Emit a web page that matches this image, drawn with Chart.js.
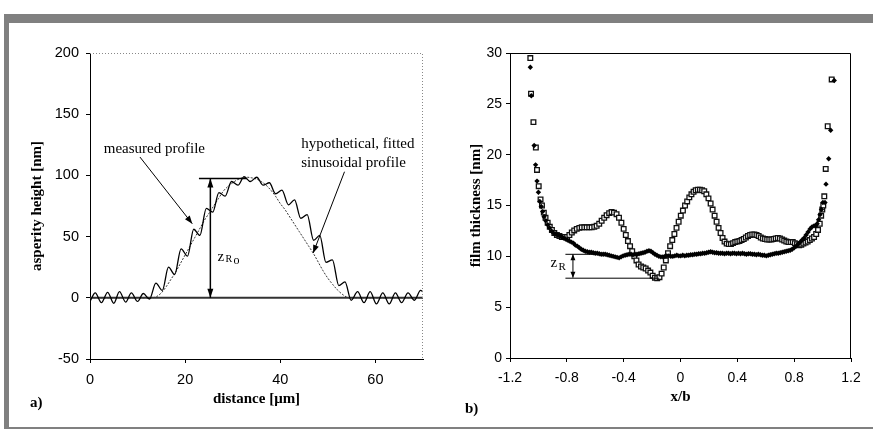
<!DOCTYPE html>
<html>
<head>
<meta charset="utf-8">
<script src="https://cdn.jsdelivr.net/npm/chart.js@4"></script>
<style>
  body { margin: 0; background: #fff; }
  #wrap { position: relative; width: 873px; height: 429px; overflow: hidden; }
  .bar { position: absolute; background: #808080; }
  canvas { position: absolute; top: 0; }
</style>
</head>
<body>
<div id="wrap">
  <canvas id="chartA" width="440" height="429" style="left:0"></canvas>
  <canvas id="chartB" width="433" height="429" style="left:440px"></canvas>
  <div class="bar" style="left:4px;top:14px;width:869px;height:9px"></div>
  <div class="bar" style="left:4px;top:14px;width:5px;height:415px"></div>
  <div class="bar" style="left:4px;top:427px;width:869px;height:2px"></div>
</div>
<script>
// a) asperity profile: [distance µm, height nm]
var measuredProfile = [
  [0, -3], [1.1, 4], [2.4, -4], [3.7, 4.5], [5.0, -4.5], [6.2, 5], [7.5, -3.5], [8.7, 4],
  [10.0, -3], [11.2, 3.5], [12.5, -1], [13.85, 12], [15.2, 6], [16.5, 25], [17.8, 19],
  [19.15, 40], [20.5, 34], [21.8, 56], [23.1, 51], [24.45, 73], [25.8, 70], [27.1, 86],
  [28.4, 83], [29.75, 95], [31.1, 92], [32.4, 99], [33.7, 95], [35.05, 98.5], [36.4, 92],
  [37.7, 94], [39.0, 85], [40.35, 88], [41.7, 76], [43.0, 80], [44.3, 65], [45.65, 68],
  [47.0, 47], [48.3, 51], [49.6, 29], [50.95, 31], [52.3, 10], [53.6, 13], [54.9, -2],
  [56.25, 5], [57.6, -4], [58.9, 5], [60.2, -5], [61.55, 4], [62.9, -5], [64.2, 4],
  [65.5, -4], [66.85, 4], [68.2, -2], [69.5, 6], [70, 5]
];
var fittedProfile = [
  [0, 0], [13, 0], [14, 1], [15, 4], [16, 9], [17, 15], [18, 21], [19, 28], [20, 35],
  [21, 42], [22, 49], [23, 56], [24, 63], [25, 69], [26, 75], [27, 81], [28, 87], [29, 91],
  [30, 94], [31, 96.5], [32, 98], [33, 98.5], [34, 98], [35, 97], [36, 95], [37, 92],
  [38, 88], [39, 83], [40, 77], [41, 72], [42, 66], [43, 60], [44, 54], [45, 48], [46, 42],
  [47, 36], [48, 29], [49, 22], [50, 16], [51, 11], [52, 6.5], [53, 3], [54, 0.5], [54.5, 0], [70, 0]
];
var baseLine = [[0, 0], [70, 0]];
var distTicks = [0, 20, 40, 60];
var heightTicks = [-50, 0, 50, 100, 150, 200];

// b) film thickness across the contact: [x/b, h nm]
var filmSquares = [
  [-1.057, 29.5], [-1.052, 26.0], [-1.035, 23.2], [-1.018, 20.7], [-1.010, 18.5], [-0.998, 16.9],
  [-0.985, 15.6], [-0.975, 15.0], [-0.962, 14.3], [-0.950, 13.8], [-0.935, 13.3], [-0.920, 12.9],
  [-0.905, 12.6], [-0.888, 12.3], [-0.870, 12.1], [-0.852, 12.0], [-0.835, 11.9], [-0.815, 11.9],
  [-0.798, 11.9], [-0.782, 12.1], [-0.765, 12.35], [-0.748, 12.55], [-0.730, 12.7], [-0.712, 12.8],
  [-0.695, 12.85], [-0.677, 12.85], [-0.660, 12.85], [-0.642, 12.85], [-0.625, 12.85], [-0.607, 12.9],
  [-0.590, 13.0], [-0.572, 13.2], [-0.555, 13.5], [-0.537, 13.8], [-0.520, 14.05], [-0.502, 14.25],
  [-0.485, 14.35], [-0.468, 14.3], [-0.450, 14.15], [-0.433, 13.8], [-0.416, 13.3], [-0.400, 12.7],
  [-0.385, 12.1], [-0.370, 11.5], [-0.355, 11.0], [-0.340, 10.5], [-0.325, 10.0], [-0.310, 9.6],
  [-0.295, 9.2], [-0.278, 9.0], [-0.262, 8.9], [-0.245, 8.8], [-0.228, 8.6], [-0.212, 8.4],
  [-0.196, 8.1], [-0.180, 7.9], [-0.164, 7.85], [-0.148, 7.95], [-0.133, 8.3], [-0.118, 8.9],
  [-0.103, 9.6], [-0.088, 10.3], [-0.073, 11.0], [-0.058, 11.6], [-0.043, 12.2], [-0.028, 12.8],
  [-0.013, 13.4], [0.002, 14.0], [0.017, 14.5], [0.032, 15.0], [0.047, 15.4], [0.062, 15.8],
  [0.077, 16.1], [0.092, 16.35], [0.107, 16.5], [0.122, 16.55], [0.137, 16.55], [0.152, 16.5],
  [0.167, 16.4], [0.182, 16.1], [0.197, 15.7], [0.212, 15.2], [0.226, 14.6], [0.240, 14.0],
  [0.254, 13.4], [0.268, 12.8], [0.282, 12.3], [0.296, 11.8], [0.310, 11.45], [0.325, 11.25],
  [0.340, 11.2], [0.355, 11.2], [0.370, 11.3], [0.385, 11.4], [0.400, 11.45], [0.415, 11.5],
  [0.430, 11.6], [0.445, 11.7], [0.460, 11.85], [0.475, 12.0], [0.490, 12.1], [0.505, 12.15],
  [0.520, 12.15], [0.535, 12.1], [0.550, 12.0], [0.565, 11.85], [0.580, 11.75], [0.595, 11.7],
  [0.610, 11.65], [0.625, 11.65], [0.640, 11.65], [0.655, 11.7], [0.670, 11.75], [0.685, 11.8],
  [0.700, 11.75], [0.715, 11.65], [0.730, 11.55], [0.745, 11.45], [0.760, 11.4], [0.775, 11.4],
  [0.790, 11.4], [0.805, 11.3], [0.820, 11.2], [0.835, 11.1], [0.850, 11.15], [0.865, 11.25],
  [0.880, 11.35], [0.895, 11.45], [0.910, 11.6], [0.925, 11.75], [0.940, 11.9], [0.955, 12.2],
  [0.968, 12.6], [0.980, 13.2], [0.990, 14.0], [0.998, 14.6], [1.005, 15.0], [1.012, 15.9],
  [1.022, 18.6], [1.036, 22.8], [1.064, 27.4]
];
var filmDiamonds = [
  [-1.057, 28.6], [-1.050, 25.8], [-1.030, 20.9], [-1.020, 19.0], [-1.010, 17.4], [-1.000, 16.3],
  [-0.990, 15.4], [-0.980, 14.9], [-0.970, 14.4], [-0.960, 13.9], [-0.948, 13.5], [-0.935, 13.1],
  [-0.922, 12.8], [-0.908, 12.5], [-0.894, 12.3], [-0.880, 12.2], [-0.866, 12.1], [-0.852, 12.0],
  [-0.838, 11.9], [-0.824, 11.8], [-0.810, 11.7], [-0.796, 11.6], [-0.782, 11.5], [-0.768, 11.4],
  [-0.754, 11.3], [-0.740, 11.1], [-0.726, 11.0], [-0.712, 10.85], [-0.698, 10.7], [-0.684, 10.6],
  [-0.670, 10.5], [-0.656, 10.45], [-0.642, 10.4], [-0.628, 10.4], [-0.614, 10.35], [-0.600, 10.3],
  [-0.586, 10.3], [-0.572, 10.25], [-0.558, 10.2], [-0.544, 10.2], [-0.530, 10.2], [-0.516, 10.15],
  [-0.502, 10.1], [-0.488, 10.05], [-0.474, 10.0], [-0.460, 9.95], [-0.446, 9.9], [-0.432, 9.85],
  [-0.418, 9.95], [-0.404, 10.05], [-0.390, 10.1], [-0.376, 10.15], [-0.362, 10.2], [-0.348, 10.2],
  [-0.334, 10.15], [-0.320, 10.2], [-0.306, 10.2], [-0.292, 10.25], [-0.278, 10.3], [-0.264, 10.35],
  [-0.250, 10.4], [-0.236, 10.5], [-0.222, 10.55], [-0.208, 10.5], [-0.194, 10.35], [-0.180, 10.2],
  [-0.166, 10.1], [-0.152, 10.0], [-0.138, 9.95], [-0.124, 9.95], [-0.110, 10.0], [-0.096, 10.05],
  [-0.082, 10.05], [-0.068, 10.0], [-0.054, 10.0], [-0.040, 10.05], [-0.026, 10.1], [-0.012, 10.05],
  [0.002, 10.05], [0.016, 10.1], [0.030, 10.05], [0.044, 10.1], [0.058, 10.1], [0.072, 10.15],
  [0.086, 10.15], [0.100, 10.2], [0.114, 10.2], [0.128, 10.25], [0.142, 10.25], [0.156, 10.3],
  [0.170, 10.3], [0.184, 10.35], [0.198, 10.4], [0.212, 10.45], [0.226, 10.4], [0.240, 10.35],
  [0.254, 10.35], [0.268, 10.3], [0.282, 10.3], [0.296, 10.3], [0.310, 10.25], [0.324, 10.3],
  [0.338, 10.3], [0.352, 10.25], [0.366, 10.3], [0.380, 10.3], [0.394, 10.25], [0.408, 10.3],
  [0.422, 10.25], [0.436, 10.3], [0.450, 10.25], [0.464, 10.2], [0.478, 10.25], [0.492, 10.25],
  [0.506, 10.2], [0.520, 10.2], [0.534, 10.15], [0.548, 10.2], [0.562, 10.15], [0.576, 10.1],
  [0.590, 10.1], [0.604, 10.05], [0.618, 10.1], [0.632, 10.15], [0.646, 10.2], [0.660, 10.25],
  [0.674, 10.3], [0.688, 10.3], [0.702, 10.35], [0.716, 10.4], [0.730, 10.45], [0.744, 10.5],
  [0.758, 10.55], [0.772, 10.6], [0.786, 10.7], [0.800, 10.85], [0.814, 11.0], [0.828, 11.2],
  [0.842, 11.4], [0.856, 11.6], [0.870, 11.8], [0.884, 12.1], [0.898, 12.4], [0.912, 12.7],
  [0.926, 12.9], [0.940, 13.0], [0.952, 13.0], [0.962, 13.2], [0.972, 13.6], [0.982, 14.1],
  [0.992, 14.6], [1.002, 15.3], [1.017, 15.3], [1.024, 17.1], [1.043, 19.6], [1.057, 22.4], [1.082, 27.3]
];
var xbTicks = [-1.2, -0.8, -0.4, 0, 0.4, 0.8, 1.2];
var filmTicks = [0, 5, 10, 15, 20, 25, 30];

function pts(arr) { return arr.map(function (p) { return { x: p[0], y: p[1] }; }); }

var tickFont = { family: 'Liberation Sans', size: 14.5 };
var titleFont = { family: 'Liberation Serif', size: 15, weight: 'bold' };

// draws arrows, helper lines and labels in data units
function arrowHead(ctx, x1, y1, x2, y2, len, half) {
  var a = Math.atan2(y2 - y1, x2 - x1);
  ctx.beginPath();
  ctx.moveTo(x2, y2);
  ctx.lineTo(x2 - len * Math.cos(a) + half * Math.sin(a), y2 - len * Math.sin(a) - half * Math.cos(a));
  ctx.lineTo(x2 - len * Math.cos(a) - half * Math.sin(a), y2 - len * Math.sin(a) + half * Math.cos(a));
  ctx.closePath();
  ctx.fill();
}

var notes = {
  id: 'notes',
  afterDatasetsDraw: function (chart, args, opts) {
    var ctx = chart.ctx, xs = chart.scales.x, ys = chart.scales.y;
    var ca = chart.chartArea;
    function X(v) { return xs.getPixelForValue(v); }
    function Y(v) { return ys.getPixelForValue(v); }
    ctx.save();
    // frame top / right
    ctx.strokeStyle = opts.frameColor;
    ctx.lineWidth = 1;
    ctx.setLineDash(opts.frameDash);
    ctx.beginPath();
    ctx.moveTo(ca.left, ca.top + 0.5);
    ctx.lineTo(ca.right - 0.5, ca.top + 0.5);
    ctx.lineTo(ca.right - 0.5, ca.bottom);
    ctx.stroke();
    ctx.setLineDash([]);
    ctx.strokeStyle = '#000';
    ctx.fillStyle = '#000';
    (opts.lines || []).forEach(function (l) {
      ctx.lineWidth = l.w || 1;
      ctx.beginPath();
      ctx.moveTo(X(l.from[0]), Y(l.from[1]));
      ctx.lineTo(X(l.to[0]), Y(l.to[1]));
      ctx.stroke();
      var x1 = X(l.from[0]), y1 = Y(l.from[1]), x2 = X(l.to[0]), y2 = Y(l.to[1]);
      if (l.headEnd) arrowHead(ctx, x1, y1, x2, y2, l.hl || 8, l.hw || 3);
      if (l.headStart) arrowHead(ctx, x2, y2, x1, y1, l.hl || 8, l.hw || 3);
    });
    ctx.textBaseline = 'alphabetic';
    ctx.textAlign = 'left';
    (opts.texts || []).forEach(function (t) {
      ctx.font = t.font;
      ctx.fillText(t.text, X(t.at[0]) + (t.dx || 0), Y(t.at[1]) + (t.dy || 0));
    });
    ctx.restore();
  }
};

new Chart(document.getElementById('chartA'), {
  type: 'scatter',
  data: {
    datasets: [
      { data: pts(measuredProfile), showLine: true, borderColor: '#000', borderWidth: 1.3,
        pointRadius: 0, cubicInterpolationMode: 'monotone' },
      { data: pts(fittedProfile), showLine: true, borderColor: '#333', borderWidth: 1,
        borderDash: [2, 1.5], pointRadius: 0, cubicInterpolationMode: 'monotone' },
      { data: pts(baseLine), showLine: true, borderColor: '#333', borderWidth: 2, pointRadius: 0 }
    ]
  },
  options: {
    responsive: false,
    animation: false,
    layout: { padding: { top: 53, right: 17, left: 0, bottom: 0 } },
    plugins: {
      legend: { display: false },
      tooltip: { enabled: false },
      notes: {
        frameColor: '#888', frameDash: [1, 2],
        lines: [
          { from: [25.3, 0], to: [25.3, 97.5], w: 1.5, headStart: true, headEnd: true, hl: 9, hw: 3 },
          { from: [22.9, 97.5], to: [33, 97.5], w: 1.5 },
          { from: [10.5, 115], to: [21.5, 60.5], w: 1, headEnd: true, hl: 8, hw: 3 },
          { from: [53.5, 103], to: [46.9, 36.5], w: 1, headEnd: true, hl: 8, hw: 3 }
        ],
        texts: [
          { text: 'measured profile', at: [2.9, 118], font: '15px "Liberation Serif"' },
          { text: 'hypothetical, fitted', at: [44.4, 122], font: '15px "Liberation Serif"' },
          { text: 'sinusoidal profile', at: [44.4, 107], font: '15px "Liberation Serif"' },
          { text: 'z', at: [26.8, 30], font: '15px "Liberation Serif"' },
          { text: 'R', at: [26.8, 30], dx: 8, dy: 1, font: '10px "Liberation Serif"' },
          { text: 'o', at: [26.8, 30], dx: 16, dy: 3, font: '12px "Liberation Serif"' }
        ]
      }
    },
    scales: {
      x: {
        type: 'linear', min: 0, max: 70,
        afterBuildTicks: function (s) { s.ticks = distTicks.map(function (v) { return { value: v }; }); },
        afterFit: function (s) { s.height = 70; },
        ticks: { color: '#000', font: tickFont, padding: 8, maxRotation: 0 },
        grid: { drawOnChartArea: false, tickLength: 4, color: '#000' },
        border: { color: '#000', width: 1 },
        title: { display: true, text: 'distance [μm]', color: '#000', font: titleFont, padding: { top: 0, bottom: 21 } }
      },
      y: {
        type: 'linear', min: -50, max: 200,
        afterBuildTicks: function (s) { s.ticks = heightTicks.map(function (v) { return { value: v }; }); },
        afterFit: function (s) { s.width = 90; },
        ticks: { color: '#000', font: tickFont, padding: 7 },
        grid: { drawOnChartArea: false, tickLength: 4, color: '#000' },
        border: { color: '#000', width: 1 },
        title: { display: true, text: 'asperity height [nm]', color: '#000', font: titleFont, padding: { top: 28, bottom: 0 } }
      }
    }
  },
  plugins: [notes, {
    id: 'tagA',
    afterDraw: function (chart) {
      var ctx = chart.ctx;
      ctx.save();
      ctx.font = 'bold 15px "Liberation Serif"';
      ctx.fillStyle = '#000';
      ctx.fillText('a)', 30, 407);
      ctx.restore();
    }
  }]
});

new Chart(document.getElementById('chartB'), {
  type: 'scatter',
  data: {
    datasets: [
      { data: pts(filmDiamonds), pointStyle: 'rectRot', pointRadius: 2.7, borderWidth: 0,
        backgroundColor: '#000', borderColor: '#000' },
      { data: pts(filmSquares), pointStyle: 'rect', pointRadius: 3.3, borderWidth: 1.3,
        backgroundColor: '#fff', borderColor: '#111' }
    ]
  },
  options: {
    responsive: false,
    animation: false,
    layout: { padding: { top: 53, right: 22, left: 0, bottom: 0 } },
    plugins: {
      legend: { display: false },
      tooltip: { enabled: false },
      notes: {
        frameColor: '#000', frameDash: [],
        lines: [
          { from: [-0.81, 10.2], to: [-0.56, 10.2], w: 1 },
          { from: [-0.81, 7.85], to: [-0.15, 7.85], w: 1 },
          { from: [-0.757, 7.9], to: [-0.757, 10.2], w: 1, headStart: true, headEnd: true, hl: 6, hw: 2.5 }
        ],
        texts: [
          { text: 'z', at: [-0.915, 9.0], font: '15px "Liberation Serif"' },
          { text: 'R', at: [-0.915, 9.0], dx: 8, dy: 3, font: '11px "Liberation Serif"' }
        ]
      }
    },
    scales: {
      x: {
        type: 'linear', min: -1.2, max: 1.2,
        afterBuildTicks: function (s) { s.ticks = xbTicks.map(function (v) { return { value: v }; }); },
        afterFit: function (s) { s.height = 71; },
        ticks: { color: '#000', font: { family: 'Liberation Sans', size: 14 }, padding: 8, maxRotation: 0,
          callback: function (v) { return String(Math.round(v * 10) / 10); } },
        grid: { drawOnChartArea: false, tickLength: 4, color: '#000' },
        border: { color: '#000', width: 1 },
        title: { display: true, text: 'x/b', color: '#000', font: titleFont, padding: { top: 0, bottom: 23 } }
      },
      y: {
        type: 'linear', min: 0, max: 30,
        afterBuildTicks: function (s) { s.ticks = filmTicks.map(function (v) { return { value: v }; }); },
        afterFit: function (s) { s.width = 70; },
        ticks: { color: '#000', font: { family: 'Liberation Sans', size: 14 }, padding: 4 },
        grid: { drawOnChartArea: false, tickLength: 4, color: '#000' },
        border: { color: '#000', width: 1 },
        title: { display: true, text: 'film thickness [nm]', color: '#000', font: titleFont, padding: { top: 27, bottom: 0 } }
      }
    }
  },
  plugins: [notes, {
    id: 'tagB',
    afterDraw: function (chart) {
      var ctx = chart.ctx;
      ctx.save();
      ctx.font = 'bold 15px "Liberation Serif"';
      ctx.fillStyle = '#000';
      ctx.fillText('b)', 25, 413);
      ctx.restore();
    }
  }]
});
</script>
</body>
</html>
